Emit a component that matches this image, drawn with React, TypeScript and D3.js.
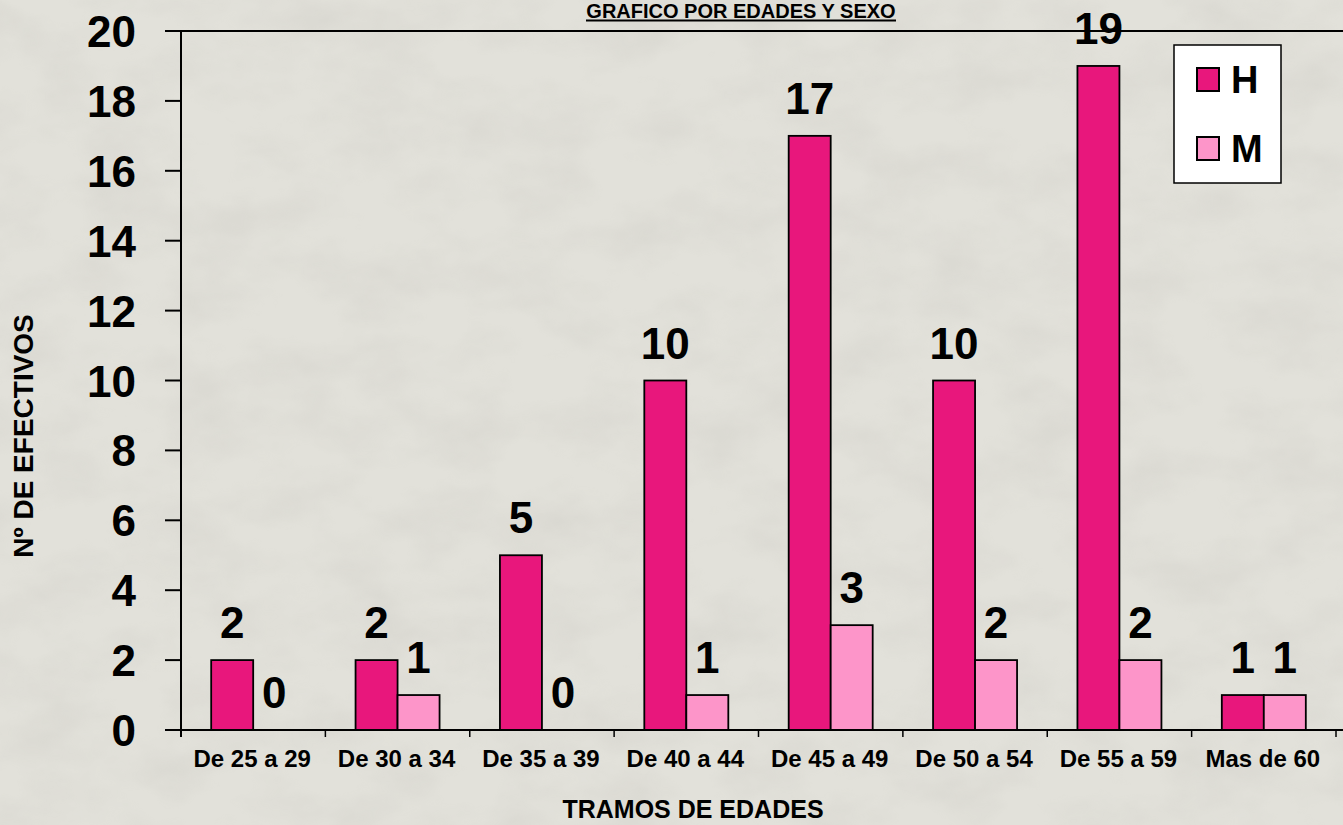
import React from "react";
import * as d3 from "d3";

const categories = ["De 25 a 29", "De 30 a 34", "De 35 a 39", "De 40 a 44", "De 45 a 49", "De 50 a 54", "De 55 a 59", "Mas de 60"];
const seriesKeys = ["H", "M"];
const hombres = [2, 2, 5, 10, 17, 10, 19, 1];
const mujeres = [0, 1, 0, 1, 3, 2, 2, 1];
const yTicks = [0, 2, 4, 6, 8, 10, 12, 14, 16, 18, 20];
const colors: Record<string, string> = { H: "#E8177C", M: "#FD95C9" };

const W = 1343;
const H = 825;
const left = 181;
const right = 1336;
const top = 31;
const bottom = 730;
const FONT = "Arial, 'Liberation Sans', Helvetica, sans-serif";

export default function App() {
  const x0 = d3.scaleBand<string>().domain(categories).range([left, right]).padding(0);
  const barW = 42;
  const po = (x0.bandwidth() / barW - 2) / 2;
  const x1 = d3.scaleBand<string>().domain(seriesKeys).range([0, x0.bandwidth()]).paddingInner(0).paddingOuter(po);
  const y = d3.scaleLinear().domain([0, 20]).range([bottom, top]);

  const rows = categories.map((c, i) => ({ cat: c, H: hombres[i], M: mujeres[i] }));

  return (
    <svg width={W} height={H} style={{ position: "absolute", left: 0, top: 0, display: "block" }} fontFamily={FONT}>
      <defs>
        <filter id="stone" x="0" y="0" width="100%" height="100%">
          <feTurbulence type="fractalNoise" baseFrequency="0.012 0.02" numOctaves={4} seed={7} result="n" />
          <feColorMatrix type="matrix" values="0 0 0 0 0.55  0 0 0 0 0.54  0 0 0 0 0.5  0 0 0 -1.2 0.75" />
        </filter>
      </defs>
      <rect x={0} y={0} width={W} height={H} fill="#e2e1da" />
      <rect x={0} y={0} width={W} height={H} filter="url(#stone)" opacity={0.4} />

      {/* title */}
      <text x={741} y={18} textAnchor="middle" fontSize={20} fontWeight="bold" fill="#000">GRAFICO POR EDADES Y SEXO</text>
      <line x1={586} x2={896} y1={20.5} y2={20.5} stroke="#000" strokeWidth={2} />

      {/* bars */}
      {rows.map((r) => (
        <g key={r.cat} transform={`translate(${x0(r.cat)},0)`}>
          {seriesKeys.map((k) => {
            const v = (r as any)[k] as number;
            const bx = x1(k)!;
            return (
              <g key={k}>
                {v > 0 && (
                  <rect x={bx} y={y(v)} width={x1.bandwidth()} height={y(0) - y(v)} fill={colors[k]} stroke="#000" strokeWidth={1.8} />
                )}
                <text x={bx + x1.bandwidth() / 2} y={y(v) - 22} textAnchor="middle" fontSize={44} fontWeight="bold" fill="#000">{v}</text>
              </g>
            );
          })}
        </g>
      ))}

      {/* axes */}
      <line x1={left} x2={W} y1={top} y2={top} stroke="#000" strokeWidth={2} />
      <line x1={left} x2={left} y1={top} y2={bottom + 7} stroke="#000" strokeWidth={2} />
      <line x1={left} x2={W} y1={bottom} y2={bottom} stroke="#000" strokeWidth={2} />
      {yTicks.map((t) => (
        <g key={t}>
          <line x1={165} x2={left} y1={y(t)} y2={y(t)} stroke="#000" strokeWidth={2} />
          <text x={136} y={y(t) + 16} textAnchor="end" fontSize={44} fontWeight="bold" fill="#000">{t}</text>
        </g>
      ))}
      {categories.map((c) => (
        <g key={c}>
          <line x1={x0(c)! + x0.bandwidth()} x2={x0(c)! + x0.bandwidth()} y1={bottom} y2={bottom + 7} stroke="#000" strokeWidth={1.5} />
          <text x={x0(c)! + x0.bandwidth() / 2 - 1} y={767} textAnchor="middle" fontSize={24} fontWeight="bold" fill="#000">{c}</text>
        </g>
      ))}

      {/* axis titles */}
      <text x={693} y={818} textAnchor="middle" fontSize={25} fontWeight="bold" fill="#000">TRAMOS DE EDADES</text>
      <text transform="translate(33,436) rotate(-90)" textAnchor="middle" fontSize={28} fontWeight="bold" fill="#000">Nº DE EFECTIVOS</text>

      {/* legend */}
      <rect x={1174} y={45} width={107} height={138} fill="#fff" stroke="#000" strokeWidth={1.5} />
      {seriesKeys.map((k, i) => (
        <g key={k}>
          <rect x={1197} y={68 + i * 69} width={22} height={23} fill={colors[k]} stroke="#000" strokeWidth={2} />
          <text x={1231} y={93 + i * 69} fontSize={38} fontWeight="bold" fill="#000">{k}</text>
        </g>
      ))}
    </svg>
  );
}
